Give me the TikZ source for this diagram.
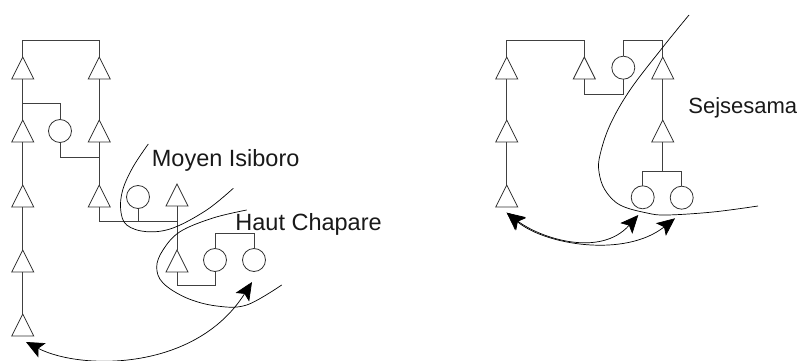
\documentclass[tikz,border=0pt]{standalone}
\usepackage{fontspec}
\setmainfont{Liberation Sans}
\usetikzlibrary{shapes.geometric,arrows.meta}
\begin{document}
\begin{tikzpicture}[x=1pt,y=-1pt,line width=0.8pt,
  tri/.style={isosceles triangle, isosceles triangle stretches, shape border rotate=90,
    minimum width=22pt, minimum height=22pt, inner sep=0pt, outer sep=0pt, draw=black!80, anchor=apex},
  fem/.style={circle, minimum size=23pt, inner sep=0pt, outer sep=0pt, draw=black!80},
  kin/.style={draw=black!75},
  zone/.style={draw=black, line width=0.7pt},
  exch/.style={draw=black, line width=0.7pt,
    {Stealth[length=18pt,width=16pt,inset=4pt]}-{Stealth[length=18pt,width=16pt,inset=4pt]}},
  lbl/.style={anchor=base west, inner sep=0pt, text=black!90, font=\fontsize{23.5}{27}\selectfont}
]
\fill[white] (0,0) rectangle (809,361);
\useasboundingbox (0,0) rectangle (809,361);

% ---------- left genealogy ----------
\node[tri] (a1) at (22.7,57) {};
\node[tri] (a2) at (22.7,120) {};
\node[tri] (a3) at (22.7,185) {};
\node[tri] (a4) at (22.7,250) {};
\node[tri] (a5) at (22.7,314) {};
\node[tri] (b1) at (99.3,57) {};
\node[tri] (b2) at (99.3,120) {};
\node[tri] (b3) at (99.3,185) {};
\node[fem] (c1) at (60,131) {};
\node[fem] (c2) at (138,197) {};
\node[tri] (tc) at (177,184) {};
\node[tri] (td) at (177,250) {};
\node[fem] (c3) at (215,260) {};
\node[fem] (c4) at (254,260) {};

\coordinate (m1) at (22.7,103);
\coordinate (m2) at (99.3,157.7);
\coordinate (m3) at (99.3,221.7);
\coordinate (m4) at (177,221.7);
\coordinate (m5) at (177,285.7);

\draw[kin] (a1.north) -- ++(0,-16.3) -| (b1.north);
\draw[kin] (a1.south) -- (a2.north);
\draw[kin] (a2.south) -- (a3.north);
\draw[kin] (a3.south) -- (a4.north);
\draw[kin] (a4.south) -- (a5.north);
\draw[kin] (b1.south) -- (b2.north);
\draw[kin] (b2.south) -- (b3.north);
\draw[kin] (m1) -| (c1.north);
\draw[kin] (c1.south) |- (m2);
\draw[kin] (b3.south) -- (m3) -- (m4);
\draw[kin] (c2.south) -- (c2.south |- m3);
\draw[kin] (tc.south) -- (td.north);
\draw[kin] (td.south) -- (m5) -| (c3.south);
\draw[kin] (c3.north) -- ++(0,-15.3) -| (c4.north);

% zones
\draw[zone] plot[smooth, tension=0.6] coordinates {(148.3,144) (133,167) (122.7,190) (120.7,210) (126.7,225) (146.7,231.7) (173,228) (206.7,210) (233.3,188.3)};
\draw[zone] plot[smooth, tension=0.6] coordinates {(246.7,210) (213,218) (180,231.7) (163,250) (156.7,267) (163,283) (186.7,298) (216.7,306) (246.7,305) (281.7,285)};

\node[lbl] (moyen) at (151.5,166.7) {Moyen Isiboro};
\node[lbl] (haut) at (235,230) {Haut Chapare};

\coordinate (tl) at (26,342);
\coordinate (tr) at (252,282);
\draw[exch] (tl) .. controls (80,370) and (195,372) .. (tr);

% ---------- right genealogy ----------
\node[tri] (r1) at (506.7,57) {};
\node[tri] (r2) at (506.7,120) {};
\node[tri] (r3) at (506.7,185) {};
\node[tri] (s1) at (584.3,57) {};
\node[fem] (c5) at (623.3,67.7) {};
\node[tri] (u1) at (662.7,57) {};
\node[tri] (u2) at (662.7,120) {};
\node[fem] (c6) at (642.7,197.3) {};
\node[fem] (c7) at (681.7,197.7) {};
\coordinate (m6) at (662.7,171.7);

\draw[kin] (r1.north) -- ++(0,-16.3) -| (s1.north);
\draw[kin] (r1.south) -- (r2.north);
\draw[kin] (r2.south) -- (r3.north);
\draw[kin] (c5.north) -- ++(0,-15.3) -| (u1.north);
\draw[kin] (s1.south) -- ++(0,15.3) -| (c5.south);
\draw[kin] (u1.south) -- (u2.north);
\draw[kin] (u2.south) -- (m6);
\draw[kin] (c6.north) |- (m6) -| (c7.north);

\draw[zone] plot[smooth, tension=0.6] coordinates {(689,15) (663,47) (630,90) (610,125) (600,155) (599,172) (605,190) (620,205) (647,213) (667,215) (713,212) (758,206)};

\node[lbl, font=\fontsize{22}{26}\selectfont] (sej) at (688,113.3) {Sejsesama};

\coordinate (tl2) at (506.7,212.7);
\coordinate (tr1) at (638.3,215);
\coordinate (tr2) at (675,218.3);
\draw[exch] (tl2) .. controls (540,238) and (600,258) .. (tr1);
\draw[exch] (tl2) .. controls (545,245) and (625,258) .. (tr2);
\end{tikzpicture}
\end{document}
